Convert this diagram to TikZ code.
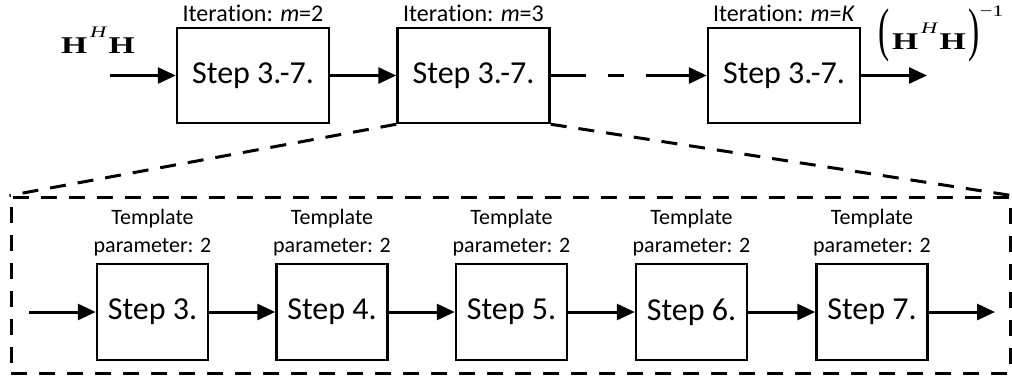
\documentclass[tikz,border=0pt]{standalone}
\usepackage{fontspec}
\setmainfont{Carlito}[Ligatures=NoCommon]
\newfontfamily\tms{Liberation Serif}
\usetikzlibrary{arrows.meta}
\newcommand{\supH}{\raisebox{16pt}{\fontsize{16}{16}\selectfont\textit{H}}}
\newcommand{\Iter}{Itera\kern0pt tion}
\begin{document}
\begin{tikzpicture}[x=1pt,y=-1pt,
 blk/.style={draw,line width=2.5pt,minimum width=152pt,minimum height=95pt,inner sep=0pt,font=\fontsize{32}{38}\selectfont},
 sblk/.style={draw,line width=2.5pt,minimum width=111pt,minimum height=96pt,inner sep=0pt,font=\fontsize{32}{38}\selectfont},
 arr/.style={line width=3pt,-{Triangle[length=18pt,width=16pt]}},
 itlab/.style={font=\fontsize{24}{28}\selectfont,inner sep=0pt},
 tlab/.style={font=\fontsize{22}{28}\selectfont,align=center,inner sep=0pt},
 dsh/.style={line width=3pt,dash pattern=on 16pt off 12pt}]
\useasboundingbox (0,0) rectangle (1012,384);
% top row
\node[blk] (t1) at (253,75.5) {Step 3.-7.};
\node[blk] (t2) at (473.5,75.5) {Step 3.-7.};
\node[blk] (t3) at (784,75.5) {Step 3.-7.};
\node[itlab] (l1) at (253,13) {\Iter: \textit{m}=2};
\node[itlab] (l2) at (473.5,13) {\Iter: \textit{m}=3};
\node[itlab] (l3) at (784,13) {\Iter: \textit{m}=\textit{K}};
\coordinate (tin) at (110,75.5);
\coordinate (tout) at (927,75.5);
\draw[arr] (tin) -- (t1);
\draw[arr] (t1) -- (t2);
\draw[arr,dash pattern=on 35pt off 22pt on 16pt off 22pt on 200pt] (t2) -- (t3);
\draw[arr] (t3) -- (tout);
\node[anchor=base west,inner sep=0pt] (hh) at (61,53) {\tms\fontsize{24}{24}\selectfont\scalebox{1.4}[1]{\textbf{H}\kern2pt\supH\kern1pt\textbf{H}}};
\node[anchor=base west,inner sep=0pt] (inv) at (878,49) {\tms\fontsize{24}{24}\selectfont\scalebox{1.4}[1]{\scalebox{1}[2.45]{(}\kern2pt\textbf{H}\kern2pt\supH\kern1pt\textbf{H}\kern2pt\scalebox{1}[2.45]{)}\raisebox{33pt}{\fontsize{16}{16}\selectfont −1}}};
% zoom frame
\node[draw,dsh,minimum width=999pt,minimum height=176pt,inner sep=0pt] (frame) at (510.5,285) {};
\draw[dsh] (t2.south west) -- (frame.north west);
\draw[dsh] (t2.south east) -- (frame.north east);
% bottom row
\node[sblk] (s3) at (152.5,312) {Step 3.};
\node[sblk] (s4) at (332,312) {Step 4.};
\node[sblk] (s5) at (511.5,312) {Step 5.};
\node[sblk] (s6) at (691.5,312) {Step 6.};
\node[sblk] (s7) at (872,312) {Step 7.};
\node[tlab] (p3) at (152.5,233) {Template\\parameter: 2};
\node[tlab] (p4) at (332,233) {Template\\parameter: 2};
\node[tlab] (p5) at (511.5,233) {Template\\parameter: 2};
\node[tlab] (p6) at (691.5,233) {Template\\parameter: 2};
\node[tlab] (p7) at (872,233) {Template\\parameter: 2};
\coordinate (bin) at (29,312);
\coordinate (bout) at (995,312);
\draw[arr] (bin) -- (s3);
\draw[arr] (s3) -- (s4);
\draw[arr] (s4) -- (s5);
\draw[arr] (s5) -- (s6);
\draw[arr] (s6) -- (s7);
\draw[arr] (s7) -- (bout);
\end{tikzpicture}
\end{document}
